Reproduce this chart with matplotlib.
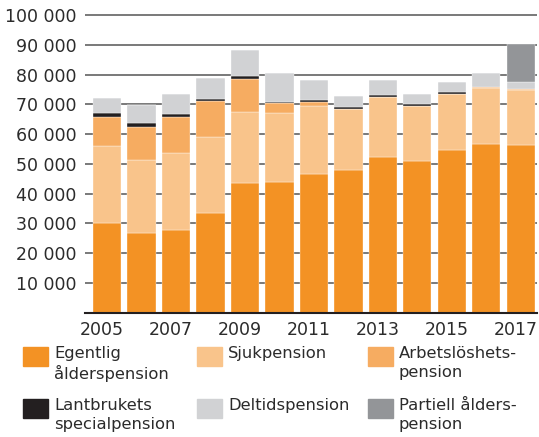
import numpy as np
import matplotlib
matplotlib.use('Agg')
import matplotlib.pyplot as plt
import matplotlib.transforms as mtrans
from matplotlib.patches import Rectangle

plt.rcParams['font.family'] = ['DejaVu Sans']

years = [2005, 2006, 2007, 2008, 2009, 2010, 2011, 2012, 2013, 2014, 2015, 2016, 2017]
egentlig = [30100, 26900, 27900, 33500, 43400, 44000, 46600, 48000, 52200, 50800, 54800, 56800, 56500]
sjuk = [25900, 24400, 25700, 25600, 24100, 23100, 22900, 20300, 20200, 18700, 18700, 18800, 18500]
arbetsloshet = [9900, 11100, 12200, 12000, 11100, 3200, 1400, 300, 200, 100, 100, 100, 100]
lantbruk = [1100, 1300, 800, 800, 1100, 500, 500, 500, 500, 600, 500, 200, 100]
deltid = [5100, 6100, 6800, 7100, 8500, 9800, 6800, 3700, 5000, 3400, 3400, 4800, 2400]
partiell = [0, 0, 0, 0, 0, 0, 0, 0, 0, 0, 0, 0, 12800]

series = [egentlig, sjuk, arbetsloshet, lantbruk, deltid, partiell]
labels = ['Egentlig\nålderspension', 'Sjukpension', 'Arbetslöshets-\npension',
          'Lantbrukets\nspecialpension', 'Deltidspension', 'Partiell ålders-\npension']
colors = ['#F39224', '#F9C48B', '#F6AC61', '#231F20', '#D1D2D4', '#939598']
yticks = [10000, 20000, 30000, 40000, 50000, 60000, 70000, 80000, 90000, 100000]
xticks = [2005, 2007, 2009, 2011, 2013, 2015, 2017]

txt = '#2b2b2b'
W, H = 539, 437
fig = plt.figure(figsize=(W / 100, H / 100), dpi=100)
ax = fig.add_axes([85 / W, 1 - 312.5 / H, 452 / W, 300.3 / H])

bottom = np.zeros(len(years))
for vals, c in zip(series, colors):
    ax.bar(years, vals, width=0.82, bottom=bottom, color=c, edgecolor='white',
           linewidth=0.25, zorder=3)
    bottom += np.array(vals)

ax.set_xlim(2004.36, 2017.47)
ax.set_ylim(0, 101000)
ax.set_yticks(yticks)
ax.set_yticklabels([f'{v:,}'.replace(',', ' ') for v in yticks])
ax.set_xticks(xticks)
ax.set_xticklabels([str(x) for x in xticks])
ax.tick_params(axis='both', length=0, labelsize=12.5, colors=txt)
ax.tick_params(axis='y', pad=6)
ax.tick_params(axis='x', pad=6)
# year labels sit a bit left of the bar centres in the original
shift = mtrans.ScaledTranslation(-5 / 100, 0, fig.dpi_scale_trans)
for lab in ax.get_xticklabels():
    lab.set_transform(lab.get_transform() + shift)
ax.grid(axis='y', color='#555555', linewidth=1.1, zorder=0)
for s in ['top', 'right', 'left']:
    ax.spines[s].set_visible(False)
ax.spines['bottom'].set_color('#231F20')
ax.spines['bottom'].set_linewidth(1.5)
ax.spines['bottom'].set_zorder(4)

# legend, drawn by hand in pixel positions
col_x = [23, 197, 368]
row_y = [347, 399]
for i, (lab, c) in enumerate(zip(labels, colors)):
    r, k = divmod(i, 3)
    x0, y0 = col_x[k], row_y[r]
    fig.patches.append(Rectangle((x0 / W, 1 - (y0 + 19) / H), 25 / W, 19 / H,
                                 transform=fig.transFigure, color=c))
    fig.text((x0 + 31) / W, 1 - (y0 - 1) / H, lab, fontsize=11.8, color=txt,
             va='top', ha='left', linespacing=1.3)

fig.savefig('out.png', dpi=100)
